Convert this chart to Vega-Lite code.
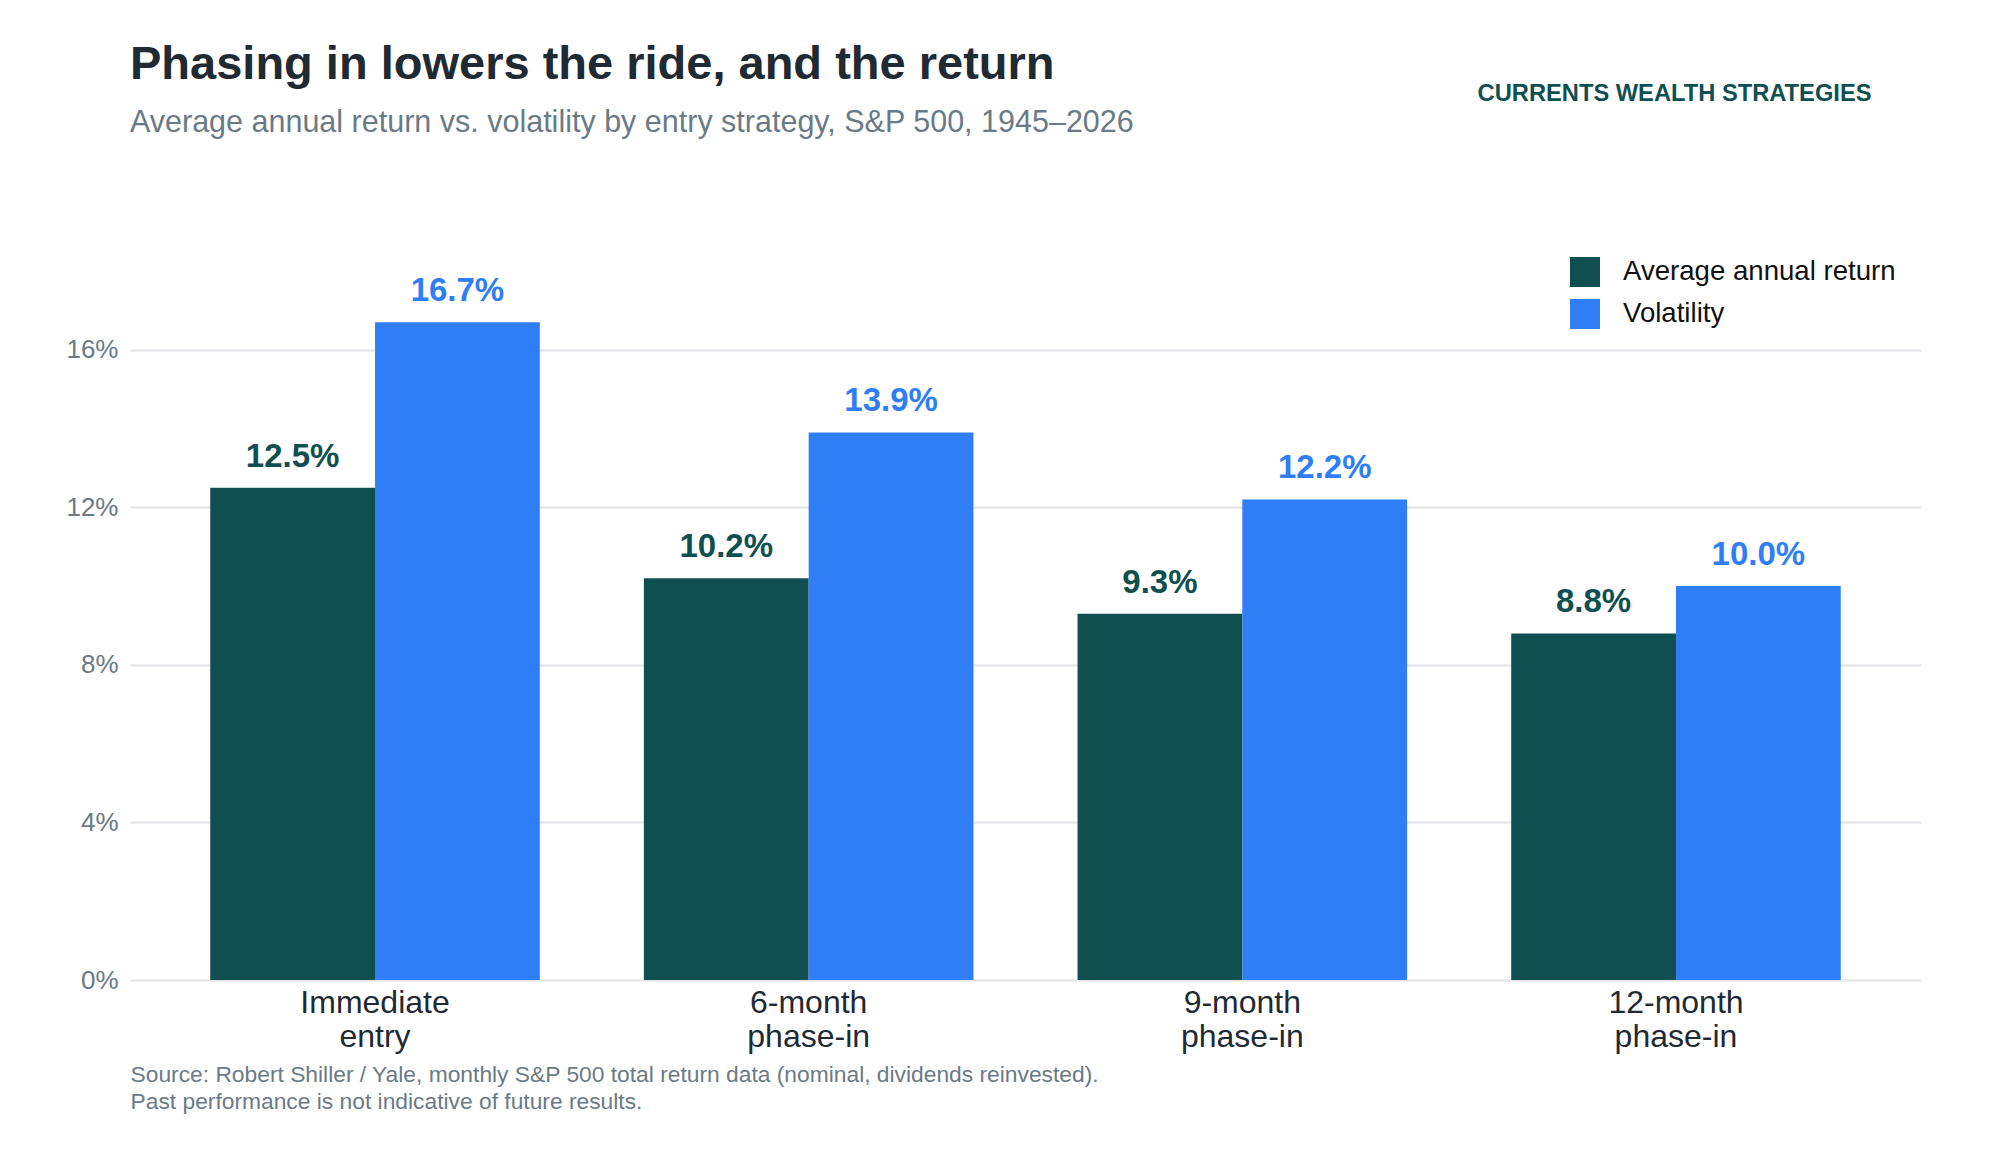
{
  "$schema": "https://vega.github.io/schema/vega-lite/v6.json",
  "width": 1791,
  "height": 709,
  "autosize": {"type": "none"},
  "padding": {"left": 130, "top": 271, "right": 79, "bottom": 180},
  "background": "white",
  "title": {
    "text": "Phasing in lowers the ride, and the return",
    "subtitle": "Average annual return vs. volatility by entry strategy, S&P 500, 1945–2026",
    "anchor": "start",
    "frame": "group",
    "offset": -58,
    "fontSize": 47,
    "fontWeight": "bold",
    "color": "#1f2a33",
    "subtitleFontSize": 30.5,
    "subtitleColor": "#6b7a85",
    "subtitlePadding": 19
  },
  "data": {
    "values": [
      {"strategy": "Immediate entry", "series": "Average annual return", "value": 0.125},
      {"strategy": "Immediate entry", "series": "Volatility", "value": 0.167},
      {"strategy": "6-month phase-in", "series": "Average annual return", "value": 0.102},
      {"strategy": "6-month phase-in", "series": "Volatility", "value": 0.139},
      {"strategy": "9-month phase-in", "series": "Average annual return", "value": 0.093},
      {"strategy": "9-month phase-in", "series": "Volatility", "value": 0.122},
      {"strategy": "12-month phase-in", "series": "Average annual return", "value": 0.088},
      {"strategy": "12-month phase-in", "series": "Volatility", "value": 0.100}
    ]
  },
  "encoding": {
    "x": {
      "field": "strategy",
      "type": "nominal",
      "sort": ["Immediate entry", "6-month phase-in", "9-month phase-in", "12-month phase-in"],
      "scale": {"paddingInner": 0.24, "paddingOuter": 0.185},
      "axis": {
        "labelAngle": 0,
        "labelExpr": "split(datum.label, ' ')",
        "labelFontSize": 32,
        "labelColor": "#1f2a33",
        "labelLineHeight": 34,
        "labelPadding": 7,
        "labelBaseline": "top",
        "domain": false,
        "ticks": false,
        "title": [
          "Source: Robert Shiller / Yale, monthly S&P 500 total return data (nominal, dividends reinvested).",
          "Past performance is not indicative of future results."
        ],
        "titleFontSize": 22.8,
        "titleFontWeight": "normal",
        "titleColor": "#6b7a85",
        "titleAnchor": "start",
        "titleAlign": "left",
        "titleBaseline": "alphabetic",
        "titleLineHeight": 27,
        "titleX": 0,
        "titleY": 101
      }
    },
    "xOffset": {
      "field": "series",
      "type": "nominal",
      "sort": ["Average annual return", "Volatility"],
      "scale": {"paddingInner": 0, "paddingOuter": 0}
    },
    "y": {
      "field": "value",
      "type": "quantitative",
      "scale": {"domain": [0, 0.18], "nice": false},
      "axis": {
        "values": [0, 0.04, 0.08, 0.12, 0.16],
        "format": ".0%",
        "labelFontSize": 26,
        "labelColor": "#6b7a85",
        "labelPadding": 12,
        "domain": false,
        "ticks": false,
        "gridColor": "#e6e8eb",
        "gridWidth": 2.5,
        "title": "CURRENTS WEALTH STRATEGIES",
        "titleAngle": 0,
        "titleFontSize": 23.7,
        "titleFontWeight": "bold",
        "titleColor": "#0f4f50",
        "titleAlign": "right",
        "titleBaseline": "alphabetic",
        "titleX": 1741,
        "titleY": -171
      }
    },
    "color": {
      "field": "series",
      "type": "nominal",
      "scale": {
        "domain": ["Average annual return", "Volatility"],
        "range": ["#0f4f50", "#2f7ef5"]
      },
      "legend": {
        "title": null,
        "orient": "none",
        "legendX": 1440,
        "legendY": -14,
        "symbolType": "square",
        "symbolSize": 900,
        "symbolStrokeWidth": 0,
        "symbolOpacity": 1,
        "labelFontSize": 27.6,
        "labelColor": "#111111",
        "labelLimit": 0,
        "labelOffset": 23,
        "rowPadding": 12
      }
    }
  },
  "layer": [
    {"mark": {"type": "bar"}},
    {
      "mark": {"type": "text", "fontSize": 33, "fontWeight": "bold", "dy": -21, "baseline": "alphabetic"},
      "encoding": {
        "text": {"field": "value", "type": "quantitative", "format": ".1%"}
      }
    }
  ],
  "config": {
    "font": "Liberation Sans",
    "view": {"stroke": null}
  }
}
